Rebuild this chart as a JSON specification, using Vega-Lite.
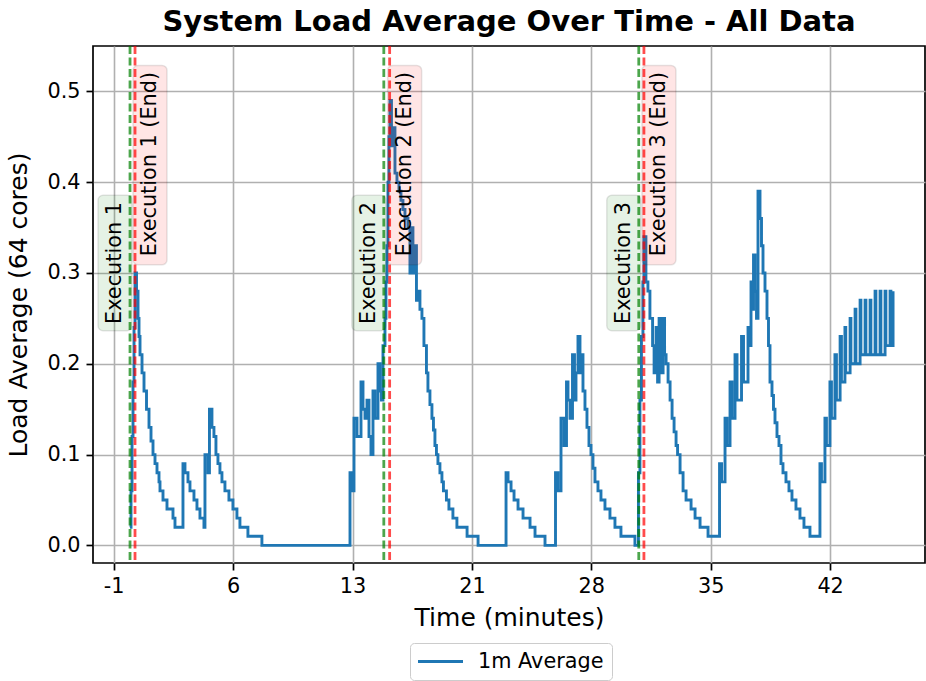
{
  "$schema": "https://vega.github.io/schema/vega-lite/v6.json",
  "width": 832,
  "height": 517,
  "autosize": {"type": "none"},
  "padding": {"left": 93, "top": 46, "right": 1, "bottom": 118},
  "background": "white",
  "title": {"text": "System Load Average Over Time - All Data", "fontSize": 29, "fontWeight": "bold", "font": "DejaVu Sans", "color": "black", "anchor": "middle", "baseline": "alphabetic", "offset": -15},
  "config": {
    "font": "DejaVu Sans",
    "view": {"stroke": "black", "strokeWidth": 1.7},
    "axis": {"grid": true, "gridColor": "#b0b0b0", "gridWidth": 1.6, "domain": false, "tickColor": "black", "tickWidth": 1.7, "tickSize": 7, "labelFontSize": 20.8, "labelColor": "black", "labelPadding": 6, "titleFontSize": 25, "titleFontWeight": "normal", "titleColor": "black", "labelFont": "DejaVu Sans", "titleFont": "DejaVu Sans", "labelFlush": false, "labelOverlap": false},
    "legend": {"orient": "none", "legendX": 317, "legendY": 597, "strokeColor": "#cccccc", "fillColor": "white", "padding": 8, "cornerRadius": 4, "labelFontSize": 20.8, "labelFont": "DejaVu Sans", "labelColor": "black", "symbolType": "M-2.5,0H2.5", "symbolStrokeWidth": 3, "symbolSize": 324, "symbolOffset": 12, "labelOffset": 27}
  },
  "datasets": {
    "load": [
      {"t":0.08,"v":0.02},{"t":0.14,"v":0.06},{"t":0.20,"v":0.12},{"t":0.26,"v":0.18},{"t":0.32,"v":0.24},{"t":0.38,"v":0.30},{"t":0.47,"v":0.28},{"t":0.56,"v":0.25},{"t":0.62,"v":0.23},{"t":0.68,"v":0.21},{"t":0.80,"v":0.19},{"t":0.92,"v":0.17},{"t":1.07,"v":0.15},{"t":1.22,"v":0.13},{"t":1.34,"v":0.115},{"t":1.46,"v":0.10},{"t":1.58,"v":0.09},{"t":1.70,"v":0.08},{"t":1.82,"v":0.07},{"t":1.88,"v":0.06},{"t":2.06,"v":0.05},{"t":2.30,"v":0.04},{"t":2.66,"v":0.03},{"t":2.78,"v":0.02},{"t":3.26,"v":0.09},{"t":3.38,"v":0.08},{"t":3.56,"v":0.07},{"t":3.68,"v":0.06},{"t":3.92,"v":0.05},{"t":4.10,"v":0.04},{"t":4.28,"v":0.03},{"t":4.52,"v":0.02},{"t":4.58,"v":0.10},{"t":4.76,"v":0.08},{"t":4.85,"v":0.15},{"t":5.00,"v":0.13},{"t":5.12,"v":0.12},{"t":5.24,"v":0.10},{"t":5.36,"v":0.09},{"t":5.48,"v":0.08},{"t":5.60,"v":0.07},{"t":5.78,"v":0.06},{"t":6.02,"v":0.05},{"t":6.26,"v":0.04},{"t":6.50,"v":0.03},{"t":6.68,"v":0.02},{"t":7.16,"v":0.01},{"t":8.00,"v":0.00},
      {"t":13.29,"v":0.08},{"t":13.41,"v":0.06},{"t":13.53,"v":0.14},{"t":13.71,"v":0.12},{"t":13.95,"v":0.18},{"t":14.07,"v":0.15},{"t":14.19,"v":0.14},{"t":14.31,"v":0.16},{"t":14.43,"v":0.12},{"t":14.55,"v":0.10},{"t":14.67,"v":0.17},{"t":14.79,"v":0.14},{"t":14.97,"v":0.20},{"t":15.09,"v":0.17},{"t":15.18,"v":0.16},{"t":15.27,"v":0.22},{"t":15.39,"v":0.25},{"t":15.45,"v":0.29},{"t":15.51,"v":0.33},{"t":15.57,"v":0.40},{"t":15.63,"v":0.45},{"t":15.69,"v":0.49},{"t":15.78,"v":0.44},{"t":15.87,"v":0.46},{"t":15.99,"v":0.41},{"t":16.11,"v":0.40},{"t":16.23,"v":0.39},{"t":16.35,"v":0.38},{"t":16.47,"v":0.37},{"t":16.59,"v":0.36},{"t":16.77,"v":0.35},{"t":16.89,"v":0.30},{"t":16.98,"v":0.35},{"t":17.07,"v":0.30},{"t":17.19,"v":0.33},{"t":17.28,"v":0.27},{"t":17.37,"v":0.28},{"t":17.49,"v":0.26},{"t":17.61,"v":0.25},{"t":17.73,"v":0.22},{"t":17.88,"v":0.19},{"t":17.97,"v":0.17},{"t":18.09,"v":0.155},{"t":18.21,"v":0.14},{"t":18.30,"v":0.127},{"t":18.39,"v":0.11},{"t":18.48,"v":0.10},{"t":18.57,"v":0.09},{"t":18.69,"v":0.08},{"t":18.81,"v":0.07},{"t":18.90,"v":0.06},{"t":19.08,"v":0.05},{"t":19.23,"v":0.04},{"t":19.47,"v":0.03},{"t":19.71,"v":0.02},{"t":20.32,"v":0.01},{"t":20.98,"v":0.00},
      {"t":22.66,"v":0.08},{"t":22.78,"v":0.07},{"t":22.96,"v":0.06},{"t":23.14,"v":0.05},{"t":23.38,"v":0.04},{"t":23.68,"v":0.03},{"t":24.10,"v":0.02},{"t":24.40,"v":0.01},{"t":25.00,"v":0.00},
      {"t":25.63,"v":0.08},{"t":25.78,"v":0.06},{"t":25.96,"v":0.14},{"t":26.14,"v":0.11},{"t":26.29,"v":0.18},{"t":26.38,"v":0.16},{"t":26.50,"v":0.14},{"t":26.65,"v":0.21},{"t":26.77,"v":0.16},{"t":26.86,"v":0.19},{"t":26.98,"v":0.23},{"t":27.10,"v":0.19},{"t":27.19,"v":0.21},{"t":27.28,"v":0.17},{"t":27.40,"v":0.15},{"t":27.52,"v":0.13},{"t":27.64,"v":0.11},{"t":27.76,"v":0.10},{"t":27.88,"v":0.085},{"t":28.00,"v":0.07},{"t":28.18,"v":0.06},{"t":28.36,"v":0.05},{"t":28.60,"v":0.04},{"t":28.90,"v":0.03},{"t":29.20,"v":0.02},{"t":29.56,"v":0.01},{"t":30.40,"v":0.00},
      {"t":30.61,"v":0.08},{"t":30.70,"v":0.16},{"t":30.79,"v":0.23},{"t":30.88,"v":0.29},{"t":30.94,"v":0.34},{"t":31.06,"v":0.29},{"t":31.18,"v":0.28},{"t":31.30,"v":0.25},{"t":31.46,"v":0.22},{"t":31.55,"v":0.19},{"t":31.67,"v":0.24},{"t":31.76,"v":0.18},{"t":31.85,"v":0.25},{"t":31.97,"v":0.19},{"t":32.09,"v":0.25},{"t":32.18,"v":0.21},{"t":32.27,"v":0.20},{"t":32.39,"v":0.18},{"t":32.51,"v":0.16},{"t":32.63,"v":0.14},{"t":32.75,"v":0.125},{"t":32.87,"v":0.11},{"t":32.96,"v":0.10},{"t":33.11,"v":0.08},{"t":33.29,"v":0.06},{"t":33.47,"v":0.05},{"t":33.77,"v":0.04},{"t":34.01,"v":0.03},{"t":34.31,"v":0.02},{"t":34.79,"v":0.01},
      {"t":35.48,"v":0.09},{"t":35.60,"v":0.07},{"t":35.81,"v":0.14},{"t":35.93,"v":0.11},{"t":36.11,"v":0.18},{"t":36.23,"v":0.14},{"t":36.41,"v":0.21},{"t":36.53,"v":0.16},{"t":36.80,"v":0.23},{"t":36.92,"v":0.18},{"t":37.19,"v":0.24},{"t":37.28,"v":0.22},{"t":37.37,"v":0.29},{"t":37.46,"v":0.26},{"t":37.52,"v":0.32},{"t":37.61,"v":0.28},{"t":37.70,"v":0.25},{"t":37.79,"v":0.39},{"t":37.91,"v":0.36},{"t":38.00,"v":0.33},{"t":38.09,"v":0.30},{"t":38.21,"v":0.28},{"t":38.33,"v":0.25},{"t":38.42,"v":0.22},{"t":38.51,"v":0.18},{"t":38.63,"v":0.165},{"t":38.72,"v":0.15},{"t":38.81,"v":0.135},{"t":38.93,"v":0.12},{"t":39.05,"v":0.11},{"t":39.17,"v":0.09},{"t":39.29,"v":0.08},{"t":39.47,"v":0.07},{"t":39.65,"v":0.06},{"t":39.83,"v":0.05},{"t":40.07,"v":0.04},{"t":40.31,"v":0.03},{"t":40.55,"v":0.02},{"t":40.91,"v":0.01},
      {"t":41.51,"v":0.09},{"t":41.60,"v":0.07},{"t":41.81,"v":0.14},{"t":41.90,"v":0.11},{"t":42.11,"v":0.18},{"t":42.20,"v":0.14},{"t":42.41,"v":0.21},{"t":42.50,"v":0.16},{"t":42.72,"v":0.23},{"t":42.80,"v":0.18},{"t":43.01,"v":0.24},{"t":43.06,"v":0.19},{"t":43.32,"v":0.25},{"t":43.37,"v":0.20},{"t":43.62,"v":0.26},{"t":43.67,"v":0.20},{"t":43.92,"v":0.27},{"t":43.97,"v":0.21},{"t":44.22,"v":0.27},{"t":44.27,"v":0.21},{"t":44.52,"v":0.27},{"t":44.57,"v":0.21},{"t":44.82,"v":0.28},{"t":44.87,"v":0.21},{"t":45.12,"v":0.28},{"t":45.17,"v":0.21},{"t":45.42,"v":0.28},{"t":45.47,"v":0.22},{"t":45.72,"v":0.28},{"t":45.77,"v":0.22},{"t":45.90,"v":0.28}
    ],
    "events": [
      {"start": 0.08, "end": 0.38, "label": "Execution 1", "endLabel": "Execution 1 (End)"},
      {"start": 15.32, "end": 15.67, "label": "Execution 2", "endLabel": "Execution 2 (End)"},
      {"start": 30.63, "end": 30.94, "label": "Execution 3", "endLabel": "Execution 3 (End)"}
    ]
  },
  "layer": [
    {
      "data": {"name": "load"},
      "mark": {"type": "line", "interpolate": "step-after", "strokeWidth": 2.9},
      "encoding": {
        "x": {"field": "t", "type": "quantitative", "scale": {"domain": [-2.143, 47.818], "nice": false, "zero": false},
              "axis": {"title": "Time (minutes)", "values": [-0.9, 6.27, 13.44, 20.61, 27.78, 34.95, 42.12], "labelExpr": "replace(format(datum.value, '.0f'), '\u2212', '-')", "titlePadding": 10}},
        "y": {"field": "v", "type": "quantitative", "scale": {"domain": [-0.0194, 0.55], "nice": false, "zero": false},
              "axis": {"title": "Load Average (64 cores)", "values": [0, 0.1, 0.2, 0.3, 0.4, 0.5], "format": ".1f", "titlePadding": 15}},
        "color": {"datum": "1m Average", "type": "nominal", "scale": {"range": ["#1f77b4"]}, "legend": {"title": null}}
      }
    },
    {
      "data": {"name": "events"},
      "mark": {"type": "rule", "strokeDash": [8, 3.5], "strokeWidth": 2.8, "color": "#008000", "opacity": 0.7},
      "encoding": {"x": {"field": "start", "type": "quantitative"}}
    },
    {
      "data": {"name": "events"},
      "mark": {"type": "rule", "strokeDash": [8, 3.5], "strokeWidth": 2.8, "color": "#ff0000", "opacity": 0.7},
      "encoding": {"x": {"field": "end", "type": "quantitative"}}
    },
    {
      "data": {"name": "events"},
      "mark": {"type": "rect", "xOffset": -32, "x2Offset": 2, "cornerRadius": 5, "fill": "#008000", "fillOpacity": 0.1, "stroke": "black", "strokeOpacity": 0.1, "strokeWidth": 1.5},
      "encoding": {"x": {"field": "start", "type": "quantitative"}, "x2": {"field": "start"}, "y": {"datum": 0.2365}, "y2": {"datum": 0.3855}}
    },
    {
      "data": {"name": "events"},
      "mark": {"type": "rect", "xOffset": -2, "x2Offset": 32, "cornerRadius": 5, "fill": "#ff0000", "fillOpacity": 0.1, "stroke": "black", "strokeOpacity": 0.1, "strokeWidth": 1.5},
      "encoding": {"x": {"field": "end", "type": "quantitative"}, "x2": {"field": "end"}, "y": {"datum": 0.309}, "y2": {"datum": 0.5286}}
    },
    {
      "data": {"name": "events"},
      "mark": {"type": "text", "angle": 270, "fontSize": 20.8, "font": "DejaVu Sans", "color": "black", "align": "center", "baseline": "middle", "xOffset": -15},
      "encoding": {"x": {"field": "start", "type": "quantitative"}, "y": {"datum": 0.311}, "text": {"field": "label"}}
    },
    {
      "data": {"name": "events"},
      "mark": {"type": "text", "angle": 270, "fontSize": 20.8, "font": "DejaVu Sans", "color": "black", "align": "center", "baseline": "middle", "xOffset": 15},
      "encoding": {"x": {"field": "end", "type": "quantitative"}, "y": {"datum": 0.42}, "text": {"field": "endLabel"}}
    }
  ]
}
